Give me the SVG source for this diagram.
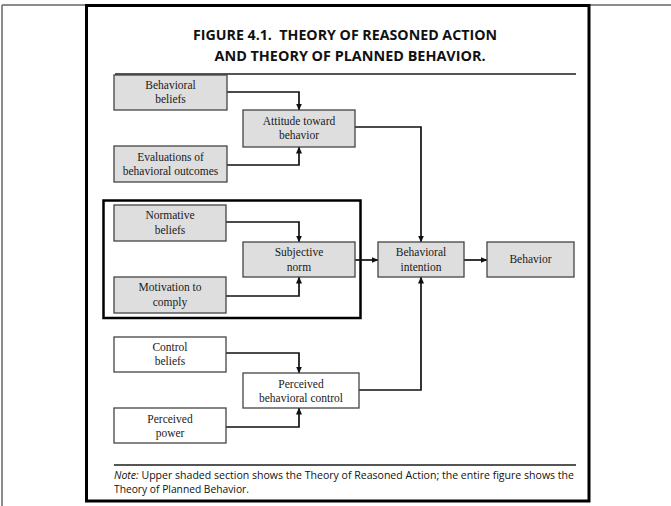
<svg xmlns="http://www.w3.org/2000/svg" width="671" height="506" viewBox="0 0 671 506">
  <defs>
    <marker id="arrow" markerWidth="7" markerHeight="6" refX="6.5" refY="3" orient="auto" markerUnits="userSpaceOnUse">
      <path d="M0,0 L7,3 L0,6 Z" fill="#111"/>
    </marker>
  </defs>
  <style>
    .frame { fill: #fff; stroke: #000; stroke-width: 3; }
    .edge { fill: none; stroke: #666; stroke-width: 1.5; }
    .rule { stroke: #555; stroke-width: 1.8; }
    .box { fill: #dedede; stroke: #444; stroke-width: 1.3; }
    .box-open { fill: #fff; stroke: #444; stroke-width: 1.3; }
    .lbl { font-family: "Liberation Serif", "Times New Roman", serif; font-size: 11.5px; fill: #1a1a1a; text-anchor: middle; }
    .title { font-family: "Open Sans", "Liberation Sans", sans-serif; font-size: 14.5px; font-weight: bold; fill: #111; text-anchor: middle; }
    .note { font-family: "Open Sans", "Liberation Sans", sans-serif; font-size: 10.5px; fill: #111; }
    .conn { fill: none; stroke: #111; stroke-width: 1.7; }
    .group { fill: none; stroke: #000; stroke-width: 2.5; }
  </style>

  <rect width="671" height="506" fill="#fff"/>
  <!-- page edges -->
  <line class="edge" x1="2" y1="5" x2="671" y2="5"/>
  <line class="edge" x1="2" y1="5" x2="2" y2="506"/>
  <!-- figure frame -->
  <rect class="frame" x="86.5" y="5.5" width="502.5" height="495.5"/>

  <!-- heading -->
  <text class="title" x="345" y="40" textLength="304" lengthAdjust="spacingAndGlyphs" xml:space="preserve">FIGURE 4.1.  THEORY OF REASONED ACTION</text>
  <text class="title" x="350" y="61" textLength="271" lengthAdjust="spacingAndGlyphs">AND THEORY OF PLANNED BEHAVIOR.</text>
  <line class="rule" x1="115" y1="74" x2="576" y2="74"/>

  <!-- Theory of Reasoned Action highlight -->
  <rect class="group" x="103.5" y="200.5" width="257" height="117.5"/>

  <!-- connectors -->
  <g id="connectors">
    <path class="conn" d="M227,92 H299 V110" marker-end="url(#arrow)"/>
    <path class="conn" d="M227,165 H299 V147" marker-end="url(#arrow)"/>
    <path class="conn" d="M226,222 H299 V242" marker-end="url(#arrow)"/>
    <path class="conn" d="M226,296 H299 V277" marker-end="url(#arrow)"/>
    <path class="conn" d="M226,353 H299 V373" marker-end="url(#arrow)"/>
    <path class="conn" d="M226,427 H299 V408" marker-end="url(#arrow)"/>
    <path class="conn" d="M355,127 H421 V242" marker-end="url(#arrow)"/>
    <path class="conn" d="M355,260 H378" marker-end="url(#arrow)"/>
    <path class="conn" d="M359,390 H421 V277" marker-end="url(#arrow)"/>
    <path class="conn" d="M464,260 H487" marker-end="url(#arrow)"/>
  </g>

  <!-- nodes -->
  <g id="behavioral-beliefs">
    <rect class="box" x="114" y="75" width="113" height="35"/>
    <text class="lbl" x="170.5" y="89">Behavioral</text>
    <text class="lbl" x="170.5" y="103">beliefs</text>
  </g>
  <g id="evaluations">
    <rect class="box" x="114" y="146" width="113" height="36"/>
    <text class="lbl" x="170.5" y="161">Evaluations of</text>
    <text class="lbl" x="170.5" y="175">behavioral outcomes</text>
  </g>
  <g id="attitude">
    <rect class="box" x="243" y="110" width="112" height="37"/>
    <text class="lbl" x="299" y="125">Attitude toward</text>
    <text class="lbl" x="299" y="139">behavior</text>
  </g>
  <g id="normative-beliefs">
    <rect class="box" x="114" y="205" width="112" height="36"/>
    <text class="lbl" x="170" y="219">Normative</text>
    <text class="lbl" x="170" y="234">beliefs</text>
  </g>
  <g id="motivation">
    <rect class="box" x="114" y="277" width="112" height="36"/>
    <text class="lbl" x="170" y="291">Motivation to</text>
    <text class="lbl" x="170" y="306">comply</text>
  </g>
  <g id="subjective-norm">
    <rect class="box" x="243" y="242" width="112" height="35"/>
    <text class="lbl" x="299" y="256">Subjective</text>
    <text class="lbl" x="299" y="271">norm</text>
  </g>
  <g id="control-beliefs">
    <rect class="box-open" x="114" y="337" width="112" height="35"/>
    <text class="lbl" x="170" y="351">Control</text>
    <text class="lbl" x="170" y="365">beliefs</text>
  </g>
  <g id="perceived-power">
    <rect class="box-open" x="114" y="408" width="112" height="35"/>
    <text class="lbl" x="170" y="423">Perceived</text>
    <text class="lbl" x="170" y="437">power</text>
  </g>
  <g id="perceived-control">
    <rect class="box-open" x="243" y="373" width="116" height="35"/>
    <text class="lbl" x="301" y="388">Perceived</text>
    <text class="lbl" x="301" y="402">behavioral control</text>
  </g>
  <g id="intention">
    <rect class="box" x="378" y="242" width="86" height="35"/>
    <text class="lbl" x="421" y="256">Behavioral</text>
    <text class="lbl" x="421" y="271">intention</text>
  </g>
  <g id="behavior">
    <rect class="box" x="487" y="242" width="87" height="35"/>
    <text class="lbl" x="530.5" y="263">Behavior</text>
  </g>

  <!-- note -->
  <line class="rule" x1="114" y1="465" x2="576" y2="465"/>
  <text class="note" x="114" y="479" textLength="460" lengthAdjust="spacingAndGlyphs"><tspan font-style="italic">Note:</tspan> Upper shaded section shows the Theory of Reasoned Action; the entire figure shows the</text>
  <text class="note" x="114" y="493" textLength="135" lengthAdjust="spacingAndGlyphs">Theory of Planned Behavior.</text>
</svg>
